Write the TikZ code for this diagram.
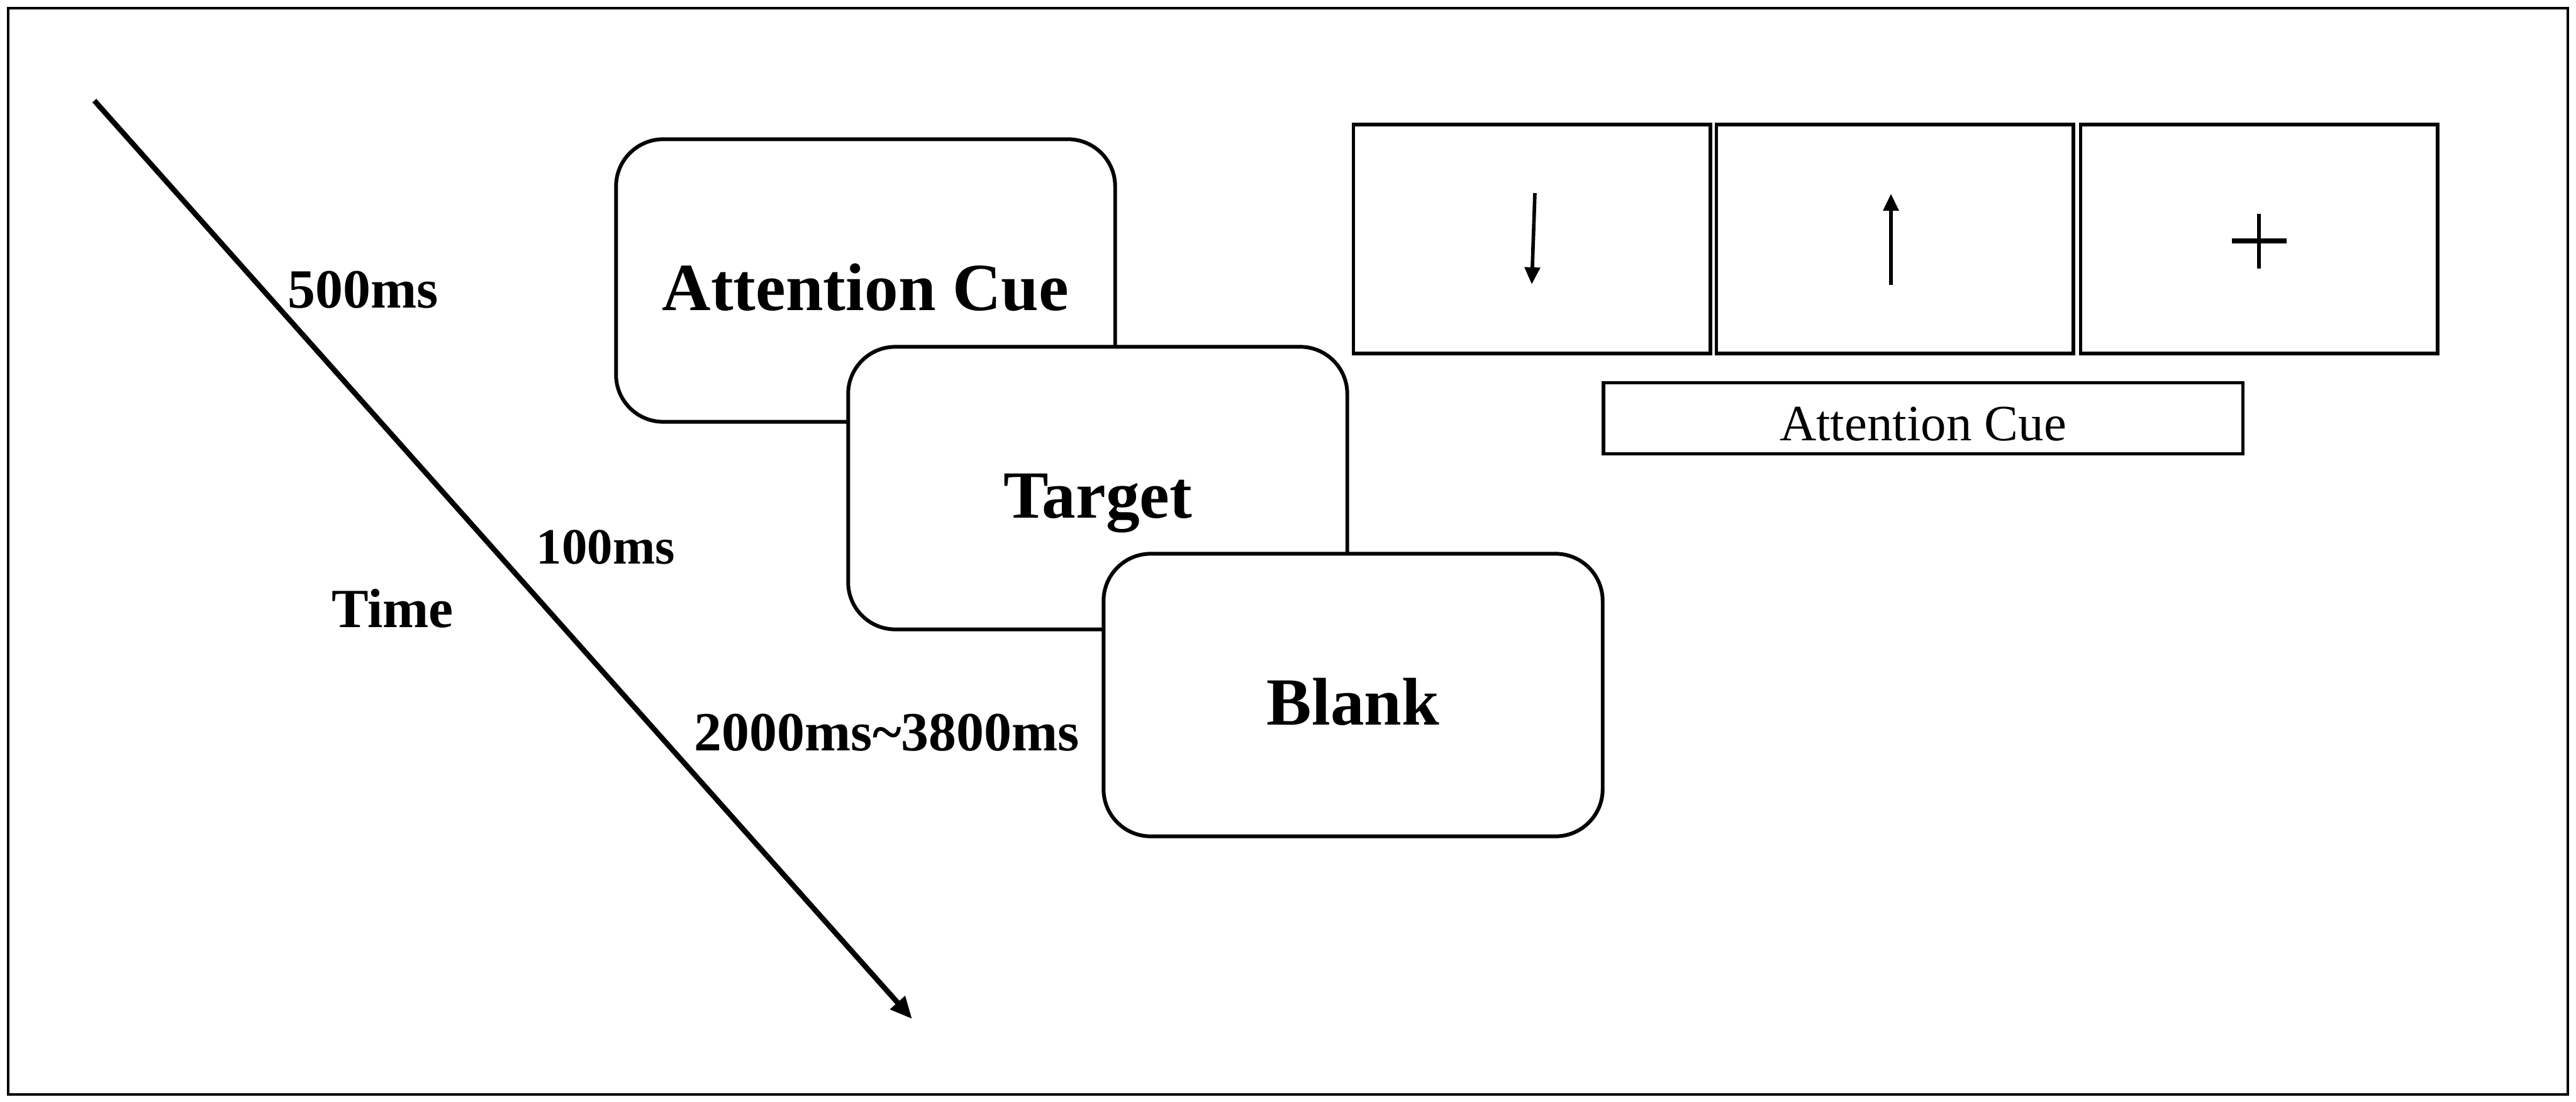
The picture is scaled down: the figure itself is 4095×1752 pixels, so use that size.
\documentclass[tikz,border=0pt]{standalone}
\usepackage{fontspec}
\setmainfont{Liberation Serif}
\usetikzlibrary{arrows.meta}

\tikzset{
  frame/.style={draw, line width=1.7pt, rounded corners=0.75cm, fill=white,
    minimum width=7.93cm, minimum height=4.49cm, text height=0.94cm, text depth=0pt,
    font=\fontsize{30.5}{36}\selectfont\bfseries},
  screen/.style={draw, line width=1.6pt, minimum width=5.67cm, minimum height=3.64cm},
  ms/.style={font=\fontsize{25}{30}\selectfont\bfseries},
  cuearrow/.style={line width=1.6pt, -{Triangle[length=0.27cm,width=0.24cm]}},
}

\begin{document}
\begin{tikzpicture}[x=0.01cm, y=-0.01cm]
  \useasboundingbox (0,0) rectangle (4095,1752);
  \draw[line width=1.2pt] (13,13) rectangle (4082,1740);

  % time axis
  \coordinate (tstart) at (150,160);
  \coordinate (tend) at (1450,1620);
  \draw[line width=2.4pt, -{Triangle[length=0.35cm,width=0.3cm]}] (tstart) -- (tend);
  \node[ms] (t500) at (577,461) {500ms};
  \node[ms, font=\fontsize{23}{28}\selectfont\bfseries] (t100) at (963,870) {100ms};
  \node[ms] (time) at (624,967) {Time};
  \node[ms] (tblank) at (1410,1165) {2000ms\textasciitilde3800ms};

  % trial screens
  \node[frame] (cue) at (1376,446) {Attention Cue};
  \node[frame] (target) at (1745,776) {Target};
  \node[frame] (blank) at (2151,1105) {Blank};

  % cue examples
  \node[screen] (down) at (2435,380) {};
  \node[screen] (up) at (3012,380) {};
  \node[screen] (fix) at (3591,380) {};
  \node[draw, line width=1.6pt, minimum width=10.16cm, minimum height=1.13cm,
    text height=0.7cm, text depth=0pt,
    font=\fontsize{23}{28}\selectfont] (cuelabel) at (3057,665) {Attention Cue};

  \coordinate (d1) at (2440,307);
  \coordinate (d2) at (2435,452);
  \draw[cuearrow] (d1) -- (d2);
  \coordinate (u1) at (3006,453);
  \coordinate (u2) at (3006,308);
  \draw[cuearrow] (u1) -- (u2);
  \coordinate (p1) at (3591,340);
  \coordinate (p2) at (3591,427);
  \coordinate (p3) at (3548,383);
  \coordinate (p4) at (3635,383);
  \draw[line width=1.5pt] (p1) -- (p2);
  \draw[line width=2.4pt] (p3) -- (p4);
\end{tikzpicture}
\end{document}
